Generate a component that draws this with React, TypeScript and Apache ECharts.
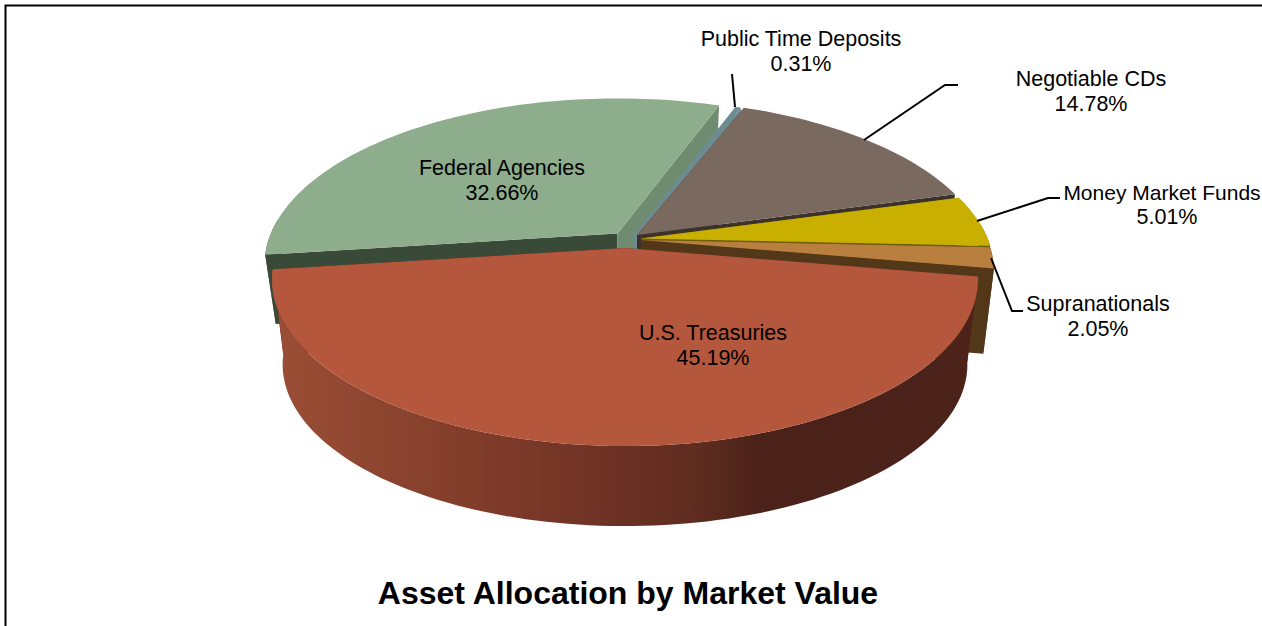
import React, { useEffect, useRef } from "react";
import * as echarts from "echarts";

// Drawing order is back to front, clockwise from the Federal Agencies slice.
const categories = ["Federal Agencies", "Public Time Deposits", "Negotiable CDs", "Money Market Funds", "Supranationals", "U.S. Treasuries"];
const values = [32.66, 0.31, 14.78, 5.01, 2.05, 45.19];
const chartTitle = "Asset Allocation by Market Value";

const topColors = ["#8EAD8C", "#6D8C92", "#7A695E", "#C9B000", "#B87F3F", "#B5573D"];
const startFaceColors = ["#3A4A38", "#6D8C92", "#3D312C", "#8A7A00", "#523718", "#4C2219"];
const endFaceColors = ["#6F8C70", "#6D8C92", "#3D312C", "#6E6000", "#523718", "#4C2219"];
const wallColors = ["#3A4A38", "#56737A", "#3D312C", "#6E6000", "#523718", null];
const apexes = [[617.5, 233.5], [634, 235], [637, 235], [641, 238.5], [641, 240], [625, 248]];
const depths = [70, 86, 86, 86, 86, 86];
const labelCenters = [[502, 168], [801, 39], [1091, 79], [1167, 192], [1098, 304], [713, 333]];
const nameShifts = [0, 0, 0, -5, 0, 0];
const nameSizes = [21.5, 21.5, 21.5, 21, 21.5, 21.5];
const leaderLines: (number[][] | null)[] = [
  null,
  [[732, 74], [735, 107]],
  [[864, 140], [945, 85], [958, 85]],
  [[977, 221], [1048, 198], [1060, 198]],
  [[991, 258], [1012, 311], [1023, 311]],
  null,
];

const START_ANGLE = 262.6;
const SX = 346.6;
const SY = 160.6;
const PERSPECTIVE = 0.189;
const BASE_SCALE = 0.97;
const WALL_FROM = 85;
const WALL_TO = 275;
const FONT = '"Liberation Sans", Arial, sans-serif';

function project(apex: number[], deg: number, floorDepth: number | null): number[] {
  const a = (deg * Math.PI) / 180;
  const u = Math.sin(a);
  const v = -Math.cos(a);
  const d = 1 - PERSPECTIVE * v;
  const s = floorDepth !== null ? BASE_SCALE : 1;
  return [apex[0] + (s * SX * u) / d, apex[1] + (s * SY * v) / d + (floorDepth ?? 0)];
}

function arc(apex: number[], from: number, to: number, floorDepth: number | null): number[][] {
  const n = Math.max(2, Math.ceil((to - from) / 1.5));
  const pts: number[][] = [];
  for (let i = 0; i <= n; i++) pts.push(project(apex, from + ((to - from) * i) / n, floorDepth));
  return pts;
}

const total = values.reduce((a, b) => a + b, 0);
const bounds: number[] = [START_ANGLE];
values.forEach((v) => bounds.push(bounds[bounds.length - 1] + (v / total) * 360));

function treasuryWall() {
  const x0 = 283;
  const x1 = 972;
  const stops: [number, string][] = [[285, "#9A4D35"], [400, "#8A432E"], [500, "#7E3A29"], [630, "#6A3023"], [700, "#5E2C1F"], [760, "#4A2219"], [970, "#4C2219"]];
  return new echarts.graphic.LinearGradient(x0, 0, x1, 0, stops.map(([x, color]) => ({ offset: (x - x0) / (x1 - x0), color })), true);
}

function renderSlice(params: any) {
  const i = params.dataIndex;
  const apex = apexes[i];
  const depth = depths[i];
  const from = bounds[i];
  const to = bounds[i + 1];
  const floorApex = [apex[0], apex[1] + depth];
  const children: any[] = [];

  const face = (deg: number, fill: string) => ({
    type: "polygon",
    shape: { points: [apex, project(apex, deg, null), project(apex, deg, depth), floorApex] },
    style: { fill },
  });
  children.push(face(from, startFaceColors[i]));
  children.push(face(to, endFaceColors[i]));

  // Only the part of the rim that faces the viewer gets an outer wall.
  // Angles run past 360 because they accumulate from START_ANGLE.
  [0, 360].forEach((turn) => {
    const wallStart = Math.max(from, WALL_FROM + turn);
    const wallEnd = Math.min(to, WALL_TO + turn);
    if (wallEnd > wallStart) {
      children.push({
        type: "polygon",
        shape: { points: [...arc(apex, wallStart, wallEnd, null), ...arc(apex, wallStart, wallEnd, depth).reverse()] },
        style: { fill: wallColors[i] ?? treasuryWall() },
      });
    }
  });
  children.push({
    type: "polygon",
    shape: { points: [apex, ...arc(apex, from, to, null)] },
    style: { fill: topColors[i] },
  });
  return { type: "group", children };
}

function renderLabel(params: any) {
  const i = params.dataIndex;
  const [x, y] = labelCenters[i];
  const common = { fill: "#000", fontFamily: FONT, align: "center", verticalAlign: "middle" };
  const children: any[] = [
    { type: "text", style: { ...common, fontSize: nameSizes[i], x: x + nameShifts[i], y, text: categories[i] } },
    { type: "text", style: { ...common, fontSize: 21.5, x, y: y + 25, text: values[i].toFixed(2) + "%" } },
  ];
  const line = leaderLines[i];
  if (line) children.push({ type: "polyline", shape: { points: line }, style: { stroke: "#000", lineWidth: 2, fill: "none" } });
  return { type: "group", children };
}

export default function App() {
  const ref = useRef<HTMLDivElement>(null);
  useEffect(() => {
    const chart = echarts.init(ref.current!, undefined, { renderer: "svg" });
    chart.setOption({
      animation: false,
      backgroundColor: "#fff",
      title: {
        text: chartTitle,
        left: 623,
        top: 572,
        textAlign: "center",
        textStyle: { fontFamily: FONT, fontSize: 32, fontWeight: "bold", color: "#000" },
      },
      graphic: [
        {
          type: "polyline",
          shape: { points: [[5.5, 626], [5.5, 5.5], [1262, 5.5]] },
          style: { stroke: "#000", lineWidth: 2, fill: "none" },
        },
      ],
      series: [
        { type: "custom", coordinateSystem: "none", silent: true, clip: false, z: 2, data: values.map((v) => [v]), renderItem: renderSlice },
        { type: "custom", coordinateSystem: "none", silent: true, clip: false, z: 3, data: values.map((v) => [v]), renderItem: renderLabel },
      ],
    });
    return () => chart.dispose();
  }, []);
  return <div ref={ref} style={{ position: "absolute", left: 0, top: 0, width: 1262, height: 626 }} />;
}
